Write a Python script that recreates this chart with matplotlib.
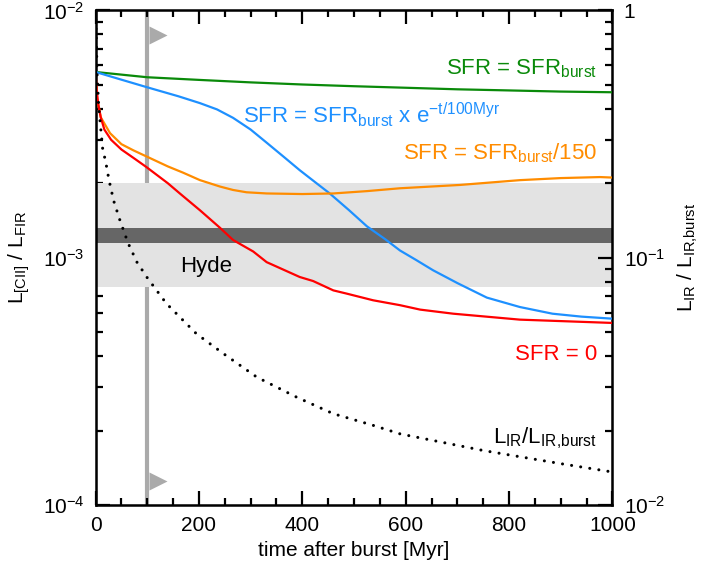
import matplotlib
matplotlib.use('Agg')
import matplotlib.pyplot as plt
import matplotlib.ticker as mticker
import matplotlib.transforms as mtransforms

plt.rcParams['font.family'] = ['Liberation Sans', 'DejaVu Sans']
plt.rcParams['mathtext.fontset'] = 'custom'
plt.rcParams['mathtext.rm'] = 'Liberation Sans'
plt.rcParams['mathtext.it'] = 'Liberation Sans:italic'
plt.rcParams['mathtext.default'] = 'regular'

# L[CII]/LFIR tracks vs time after burst (Myr)
t_const = [0, 100, 200, 300, 400, 500, 600, 700, 800, 900, 1000]
cii_const = [5.64e-3, 5.37e-3, 5.24e-3, 5.12e-3, 5.02e-3, 4.94e-3, 4.87e-3, 4.80e-3, 4.75e-3, 4.70e-3, 4.67e-3]

t_exp = [0, 50, 100, 160, 202, 235, 266, 300, 331, 365, 395, 425, 453, 490, 525, 560, 589, 620, 653, 700,
         757, 821, 884, 940, 1000]
cii_exp = [5.64e-3, 5.25e-3, 4.89e-3, 4.50e-3, 4.22e-3, 3.98e-3, 3.68e-3, 3.30e-3, 2.92e-3, 2.55e-3,
           2.26e-3, 2.02e-3, 1.82e-3, 1.56e-3, 1.34e-3, 1.19e-3, 1.07e-3, 9.8e-4, 8.9e-4, 7.9e-4,
           6.9e-4, 6.32e-4, 5.94e-4, 5.78e-4, 5.67e-4]

t_150 = [0, 1, 3, 10, 28, 50, 73, 100, 140, 169, 202, 241, 266, 292, 331, 400, 460, 525, 589, 705, 821, 900, 976, 1000]
cii_150 = [5.6e-3, 5.0e-3, 4.4e-3, 3.7e-3, 3.19e-3, 2.88e-3, 2.72e-3, 2.56e-3, 2.34e-3, 2.21e-3, 2.06e-3,
           1.94e-3, 1.88e-3, 1.84e-3, 1.82e-3, 1.81e-3, 1.82e-3, 1.86e-3, 1.91e-3, 1.97e-3, 2.06e-3,
           2.10e-3, 2.12e-3, 2.11e-3]

t_zero = [0, 2, 5, 10, 17, 30, 50, 75, 98, 140, 163, 202, 241, 266, 305, 331, 395, 421, 460, 486, 537,
          589, 628, 692, 821, 1000]
cii_zero = [5.6e-3, 4.8e-3, 4.2e-3, 3.7e-3, 3.3e-3, 3.0e-3, 2.74e-3, 2.52e-3, 2.33e-3, 2.0e-3, 1.82e-3,
            1.556e-3, 1.32e-3, 1.18e-3, 1.06e-3, 9.6e-4, 8.36e-4, 8.05e-4, 7.38e-4, 7.16e-4, 6.73e-4,
            6.43e-4, 6.17e-4, 5.94e-4, 5.62e-4, 5.45e-4]

# LIR/LIR,burst (right axis)
t_lir = [0, 3, 6, 10, 14, 19, 26, 35, 47, 63, 80, 100, 137, 195, 247, 312, 389, 460, 537, 589, 751, 900, 1000]
lir = [1.0, 0.55, 0.41, 0.333, 0.272, 0.248, 0.206, 0.170, 0.142, 0.1145, 0.096, 0.083, 0.0653, 0.0493,
       0.0410, 0.0329, 0.0273, 0.0234, 0.0210, 0.0194, 0.0166, 0.0147, 0.0136]

# Hyde range and central value band
hyde_range = [7.62e-4, 2.01e-3]
hyde_mean = [1.148e-3, 1.315e-3]
t_mark = 100
flag_y = [7.98e-3, 1.256e-4]

fig = plt.figure(figsize=(7.08, 5.67), dpi=100)
ax = fig.add_axes([0.135, 0.1093, 0.730, 0.8722])

ax.axvline(t_mark, color='#aaaaaa', lw=3, zorder=1)
flag_tr = ax.transData + mtransforms.ScaledTranslation(0.11, 0, fig.dpi_scale_trans)
for fy in flag_y:
    ax.plot([t_mark], [fy], marker='>', ms=13, color='#aaaaaa', mec='none', transform=flag_tr, zorder=1)

ax.axhspan(hyde_range[0], hyde_range[1], color='#e3e3e3', lw=0, zorder=2)
ax.axhspan(hyde_mean[0], hyde_mean[1], color='#666666', lw=0, zorder=2)

ax.plot(t_const, cii_const, color='#0a8a0a', lw=1.6, zorder=3)
ax.plot(t_exp, cii_exp, color='#1e90ff', lw=1.6, zorder=3)
ax.plot(t_150, cii_150, color='#ff8c00', lw=1.6, zorder=3)
ax.plot(t_zero, cii_zero, color='#ff0000', lw=1.6, zorder=3)

ax.set_yscale('log')
ax.set_xlim(0, 1000)
ax.set_ylim(1e-4, 1e-2)
ax.xaxis.set_major_locator(mticker.MultipleLocator(200))
ax.xaxis.set_minor_locator(mticker.MultipleLocator(50))
ax.tick_params(which='both', direction='in', top=True, width=1.6, labelsize=15, pad=8)
ax.tick_params(which='major', length=10)
ax.tick_params(which='minor', length=5)
for s in ax.spines.values():
    s.set_linewidth(1.8)

ax.set_xlabel('time after burst [Myr]', fontsize=15, labelpad=4)
ax.set_ylabel(r'L$_{\rm [CII]}$ / L$_{\rm FIR}$', fontsize=15, labelpad=8)

ax2 = ax.twinx()
ax2.plot(t_lir, lir, color='black', lw=2.2, linestyle=(0, (0.01, 3.0)), dash_capstyle='round', zorder=4)
ax2.set_yscale('log')
ax2.set_ylim(1e-2, 1)
ax2.set_yticks([1e-2, 1e-1, 1])
ax2.set_yticklabels([r'$10^{-2}$', r'$10^{-1}$', '1'])
ax2.tick_params(which='both', direction='in', width=1.6, labelsize=15, pad=8)
ax2.tick_params(which='major', length=10)
ax2.tick_params(which='minor', length=5)
ax2.set_ylabel(r'L$_{\rm IR}$ / L$_{\rm IR{,}burst}$', fontsize=15, labelpad=8)

ax.text(0.970, 0.8716, r'SFR = SFR$_{\rm burst}$', color='#0a8a0a', fontsize=16,
        ha='right', va='baseline', transform=ax.transAxes)
ax.text(0.285, 0.7725, r'SFR = SFR$_{\rm burst}$ x e$^{{-}t/100Myr}$', color='#1e90ff', fontsize=16,
        ha='left', va='baseline', transform=ax.transAxes)
ax.text(0.970, 0.6997, r'SFR = SFR$_{\rm burst}$/150', color='#ff8c00', fontsize=16,
        ha='right', va='baseline', transform=ax.transAxes)
ax.text(0.970, 0.2932, 'SFR = 0', color='#ff0000', fontsize=16,
        ha='right', va='baseline', transform=ax.transAxes)
ax.text(0.970, 0.1254, r'L$_{\rm IR}$/L$_{\rm IR{,}burst}$', color='black', fontsize=16,
        ha='right', va='baseline', transform=ax.transAxes)
ax.text(0.163, 0.471, 'Hyde', color='black', fontsize=16,
        ha='left', va='baseline', transform=ax.transAxes, zorder=5)

fig.savefig('out.png', dpi=100)
